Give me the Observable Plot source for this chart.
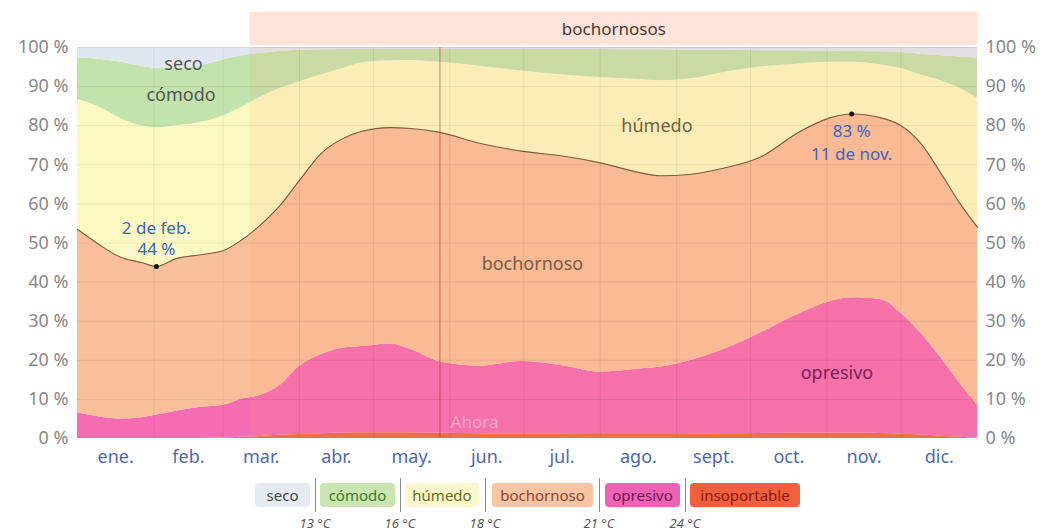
<!DOCTYPE html>
<html><head><meta charset="utf-8">
<script src="https://cdn.jsdelivr.net/npm/d3@7"></script>
<script src="https://cdn.jsdelivr.net/npm/@observablehq/plot@0.6"></script>
<style>
body{margin:0;background:#fff;font-family:"Noto Sans",sans-serif;}
#chart{width:1048px;}
.leg{position:relative;width:1048px;height:59px;}
.box{position:absolute;top:11px;height:24px;line-height:24px;border-radius:4px;font-size:15px;text-align:center;}
.sep{position:absolute;top:6px;width:1px;height:34px;background:#888;}
.tmp{position:absolute;top:42px;font-size:13px;font-style:italic;color:#555;transform:translateX(-50%);white-space:nowrap;}
</style></head><body><div id="chart"></div><div class="leg" id="legend"></div>
<script>
// Day of year sample points
const days = [0, 9, 17, 26, 32, 40, 50, 59, 66, 74, 82, 90, 99, 107, 115, 127, 135, 147, 163, 180, 196, 212, 228, 236, 249, 261, 277, 293, 305, 314, 326, 334, 342, 350, 358, 365];
// cumulative top of each comfort band (%)
const insoportable = [0, 0, 0, 0, 0, 0, 0, 0.1, 0.3, 0.5, 0.8, 1, 1.2, 1.4, 1.5, 1.5, 1.5, 1.4, 1.2, 1.1, 1.1, 1, 1, 1, 1.1, 1.2, 1.3, 1.4, 1.4, 1.4, 1.3, 1.1, 0.9, 0.6, 0.3, 0.1];
const opresivo = [6.6, 5.5, 5, 5.3, 6, 7, 8, 8.5, 10, 11, 13.5, 18.5, 21.5, 23, 23.5, 24.2, 22.8, 19.6, 18.5, 19.7, 18.7, 17, 17.8, 18.2, 20, 22.5, 27, 32, 35, 36, 35.5, 32, 27, 20.7, 14, 8.5];
const bochornoso = [53.5, 49.5, 46.5, 45, 44, 46, 47, 48, 50.5, 54.5, 59.5, 66, 73, 76.5, 78.5, 79.5, 79.3, 78.3, 75.5, 73.5, 72.3, 70.5, 68, 67.2, 67.6, 69, 72, 78.5, 82, 83, 82, 80, 75.5, 68, 60, 54];
const humedo = [86.7, 84.7, 82, 80, 79.5, 80, 80.8, 82.5, 84.5, 87.2, 89.5, 91.2, 93, 94.5, 96, 96.6, 96.7, 96.2, 95.2, 94, 93, 92.3, 91.8, 91.5, 92, 93.5, 95, 95.8, 96.2, 96.2, 95.5, 94.6, 93, 91.5, 89.5, 87];
const comodo = [97.3, 97, 96.3, 95.2, 94.7, 94.7, 95.3, 96.8, 97.8, 98.5,
  99, 99.3, 99.4, 99.5, 99.5, 99.5, 99.5, 99.5, 99.5, 99.5,
  99.5, 99.5, 99.4, 99.4, 99.3, 99.3, 99.2, 99.2, 99.1, 99,
  98.9, 98.7, 98.3, 97.9, 97.6, 97.3];

const monthNames = ["ene.", "feb.", "mar.", "abr.", "may.", "jun.", "jul.", "ago.", "sept.", "oct.", "nov.", "dic."];
const monthStarts = [0, 31, 59, 90, 120, 151, 181, 212, 243, 273, 304, 334, 365];
const yTicks = [0, 10, 20, 30, 40, 50, 60, 70, 80, 90, 100];
const mugginessPeriod = [{start: 70, end: 365, label: "bochornosos"}];
const nowDay = 147;
const extremes = [
  {day: 32, value: 44, date: "2 de feb.", pct: "44 %"},
  {day: 314, value: 83, date: "11 de nov.", pct: "83 %"}
];
const bandNames = ["seco", "cómodo", "húmedo", "bochornoso", "opresivo", "insoportable"];
const thresholds = ["13 °C", "16 °C", "18 °C", "21 °C", "24 °C"];

const rows = days.map((d, i) => ({day: d, ins: insoportable[i], opr: opresivo[i], boc: bochornoso[i], hum: humedo[i], com: comodo[i]}));
const monthMids = monthStarts.slice(0, -1).map((s, i) => (s + monthStarts[i + 1]) / 2);

const bands = [
  {y1: () => 0, y2: "ins", fill: "#f26a3a"},
  {y1: "ins", y2: "opr", fill: "#f56cb3"},
  {y1: "opr", y2: "boc", fill: "#f9bf9b"},
  {y1: "boc", y2: "hum", fill: "#fcf8c2"},
  {y1: "hum", y2: "com", fill: "#c3e3ad"},
  {y1: "com", y2: () => 100, fill: "#e0e7f1"}
];

const areaLabels = [
  {text: "seco", day: 43, value: 95.7, fill: "#555"},
  {text: "cómodo", day: 42, value: 87.8, fill: "#555"},
  {text: "húmedo", day: 235, value: 79.8, fill: "#6a6440"},
  {text: "bochornoso", day: 184.5, value: 44.5, fill: "#7a5a48"},
  {text: "opresivo", day: 308, value: 16.6, fill: "#7a1f5a"}
];

const chart = Plot.plot({
  width: 1048, height: 472,
  marginLeft: 77, marginRight: 71, marginTop: 47, marginBottom: 34,
  style: {fontFamily: "Noto Sans, sans-serif", background: "#fff"},
  x: {domain: [0, 365]},
  y: {domain: [0, 100]},
  marks: [
    Plot.rect(mugginessPeriod, {x1: "start", x2: "end", y1: 100.5, y2: 109, fill: "#fde3d9"}),
    ...bands.map(b => Plot.areaY(rows, {x: "day", y1: b.y1, y2: b.y2, fill: b.fill, curve: "monotone-x"})),
    Plot.rect(mugginessPeriod, {x1: "start", x2: "end", y1: 0, y2: 100, fill: "#fb8f5a", fillOpacity: 0.1}),
    Plot.gridY(yTicks.slice(1, -1), {stroke: "#000", strokeOpacity: 0.07}),
    Plot.gridX(monthStarts.slice(1, -1), {stroke: "#000", strokeOpacity: 0.07}),
    Plot.ruleY([100], {stroke: "#000", strokeOpacity: 0.06}),
    Plot.line(rows, {x: "day", y: "boc", stroke: "#7b5e3c", strokeWidth: 1.1, curve: "monotone-x"}),
    Plot.ruleX([nowDay], {y1: 0, y2: 100, stroke: "#a23434", strokeOpacity: 0.6}),
    Plot.text([nowDay], {x: d => d + 14, y: 4, text: () => "Ahora", fill: "#f8a6cc", fontSize: 17}),
    Plot.text(mugginessPeriod, {x: d => (d.start + d.end) / 2, y: 104.6, text: "label", fill: "#4a3b32", fontSize: 17}),
    Plot.text(areaLabels, {x: "day", y: "value", text: "text", fill: "fill", fontSize: 18}),
    Plot.dot(extremes, {x: "day", y: "value", r: 2.5, fill: "#111"}),
    Plot.text(extremes.slice(0, 1), {x: "day", y: "value", text: "date", dy: -38, fill: "#3f63c4", fontSize: 17}),
    Plot.text(extremes.slice(0, 1), {x: "day", y: "value", text: "pct", dy: -17, fill: "#3f63c4", fontSize: 17}),
    Plot.text(extremes.slice(1), {x: "day", y: "value", text: "pct", dy: 18, fill: "#3f63c4", fontSize: 17}),
    Plot.text(extremes.slice(1), {x: "day", y: "value", text: "date", dy: 41, fill: "#3f63c4", fontSize: 17}),
    Plot.axisY(yTicks, {anchor: "left", tickSize: 0, tickPadding: 9, tickFormat: d => d + " %", fontSize: 18, fill: "#888", label: null}),
    Plot.axisY(yTicks, {anchor: "right", tickSize: 0, tickPadding: 8, tickFormat: d => d + " %", fontSize: 18, fill: "#888", label: null}),
    Plot.axisX(monthMids, {tickSize: 0, tickPadding: 12, tickFormat: d => monthNames[monthMids.indexOf(d)], fontSize: 18, fill: "#4f68ad", label: null})
  ]
});
document.getElementById("chart").appendChild(chart);

// legend
const legBoxes = [
  {left: 255, width: 55, bg: "#e3eaf0", color: "#444"},
  {left: 320, width: 75, bg: "#c9e5b0", color: "#3d7a30"},
  {left: 405, width: 74, bg: "#f9f7cc", color: "#6b6b20"},
  {left: 492, width: 101, bg: "#f8c4a4", color: "#8a4a30"},
  {left: 605, width: 75, bg: "#ee62b6", color: "#6e1850"},
  {left: 690, width: 110, bg: "#f0603a", color: "#8a1a10"}
];
const sepX = [315, 400, 485, 599, 685];
const leg = document.getElementById("legend");
bandNames.forEach((n, i) => {
  const b = document.createElement("div");
  b.className = "box";
  b.textContent = n;
  Object.assign(b.style, {left: legBoxes[i].left + "px", width: legBoxes[i].width + "px", background: legBoxes[i].bg, color: legBoxes[i].color});
  leg.appendChild(b);
});
thresholds.forEach((t, i) => {
  const s = document.createElement("div");
  s.className = "sep";
  s.style.left = sepX[i] + "px";
  leg.appendChild(s);
  const l = document.createElement("div");
  l.className = "tmp";
  l.textContent = t;
  l.style.left = sepX[i] + "px";
  leg.appendChild(l);
});
</script></body></html>
